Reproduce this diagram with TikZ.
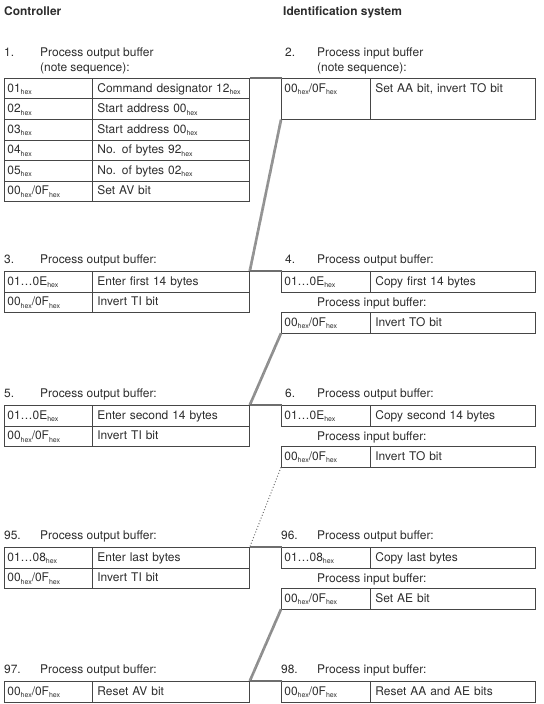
\documentclass[tikz,border=0pt]{standalone}
\usepackage{fontspec}
\setmainfont{TeX Gyre Heros}
\usepackage{xcolor}
\usepackage{tikz}
\usetikzlibrary{positioning}
\definecolor{ctText}{RGB}{ 45, 45, 45}
\definecolor{ctLine}{RGB}{ 70, 70, 70}
\definecolor{ctBand}{RGB}{200,200,200}
\definecolor{ctBandD}{RGB}{110,110,110}
\newcommand{\hexsub}{\raisebox{-2.6bp}{\fontsize{7}{8}\selectfont hex}}

\begin{document}
\begin{tikzpicture}[
  x=1bp, y=-1bp,
  every node/.style={font=\fontsize{12}{15}\selectfont, text=ctText},
  title/.style={anchor=base west, inner sep=0pt, font=\fontsize{12}{15}\selectfont\bfseries},
  hdr/.style={anchor=base west, inner sep=0pt},
  cell/.style={draw=ctLine, line width=0.8bp, anchor=north west, align=left,
               inner ysep=5.25bp, text height=8.5bp, text depth=1.5bp},
  lkey/.style={cell, inner xsep=3bp, text width=82bp},
  lval/.style={cell, inner xsep=5bp, text width=147bp},
  rkey/.style={cell, inner xsep=3bp, text width=83bp},
  rval/.style={cell, inner xsep=5bp, text width=155bp},
  hatch/.style={draw=ctBand, line width=2.6bp,
                postaction={draw=ctBandD, line width=2.6bp, dash pattern=on 0.4bp off 0.6bp}},
  dotline/.style={draw=black!55, line width=1bp, dash pattern=on 1bp off 2bp}
]
\useasboundingbox (0,0) rectangle (544,704);

\node[title] (ctl) at (4,16)   {Controller};
\node[title] (ids) at (283,16) {Identification system};

% step 1
\node[hdr] (n1)  at (4,57)  {1.};
\node[hdr] (h1)  at (40,57) {Process output buffer};
\node[hdr] (h1b) at (40,72) {(note sequence):};
\node[lkey] (s1r1k) at (4,78)     {01\hexsub};
\node[lval] (s1r1v) at (92,78)    {Command designator 12\hexsub};
\node[lkey] (s1r2k) at (4,98.5)   {02\hexsub};
\node[lval] (s1r2v) at (92,98.5)  {Start address 00\hexsub};
\node[lkey] (s1r3k) at (4,119)    {03\hexsub};
\node[lval] (s1r3v) at (92,119)   {Start address 00\hexsub};
\node[lkey] (s1r4k) at (4,139.5)  {04\hexsub};
\node[lval] (s1r4v) at (92,139.5) {No. of bytes 92\hexsub};
\node[lkey] (s1r5k) at (4,160)    {05\hexsub};
\node[lval] (s1r5v) at (92,160)   {No. of bytes 02\hexsub};
\node[lkey] (s1r6k) at (4,180.5)  {00\hexsub/0F\hexsub};
\node[lval] (s1r6v) at (92,180.5) {Set AV bit};

% step 2
\node[hdr] (n2)  at (285,57) {2.};
\node[hdr] (h2)  at (317,57) {Process input buffer};
\node[hdr] (h2b) at (317,72) {(note sequence):};
\node[rkey, text depth=22bp] (s2r1k) at (281,78) {00\hexsub/0F\hexsub};
\node[rval, text depth=22bp] (s2r1v) at (370,78) {Set AA bit, invert TO bit};

% step 3
\node[hdr] (n3) at (4,263)  {3.};
\node[hdr] (h3) at (40,263) {Process output buffer:};
\node[lkey] (s3r1k) at (4,271)      {01\ldots0E\hexsub};
\node[lval] (s3r1v) at (92,271)     {Enter first 14 bytes};
\node[lkey] (s3r2k) at (4,291.5)    {00\hexsub/0F\hexsub};
\node[lval] (s3r2v) at (92,291.5)   {Invert TI bit};

% step 4
\node[hdr] (n4)  at (285,263) {4.};
\node[hdr] (h4)  at (317,263) {Process output buffer:};
\node[rkey] (s4r1k) at (281,271)    {01\ldots0E\hexsub};
\node[rval] (s4r1v) at (370,271)    {Copy first 14 bytes};
\node[hdr] (h4b) at (317,306) {Process input buffer:};
\node[rkey] (s4r2k) at (281,312)    {00\hexsub/0F\hexsub};
\node[rval] (s4r2v) at (370,312)    {Invert TO bit};

% step 5
\node[hdr] (n5) at (4,397)  {5.};
\node[hdr] (h5) at (40,397) {Process output buffer:};
\node[lkey] (s5r1k) at (4,405)      {01\ldots0E\hexsub};
\node[lval] (s5r1v) at (92,405)     {Enter second 14 bytes};
\node[lkey] (s5r2k) at (4,425.5)    {00\hexsub/0F\hexsub};
\node[lval] (s5r2v) at (92,425.5)   {Invert TI bit};

% step 6
\node[hdr] (n6)  at (285,397) {6.};
\node[hdr] (h6)  at (317,397) {Process output buffer:};
\node[rkey] (s6r1k) at (281,405)    {01\ldots0E\hexsub};
\node[rval] (s6r1v) at (370,405)    {Copy second 14 bytes};
\node[hdr] (h6b) at (317,440) {Process input buffer:};
\node[rkey] (s6r2k) at (281,446)    {00\hexsub/0F\hexsub};
\node[rval] (s6r2v) at (370,446)    {Invert TO bit};

% step 95
\node[hdr] (n95) at (4,539)  {95.};
\node[hdr] (h95) at (40,539) {Process output buffer:};
\node[lkey] (s95r1k) at (4,547)     {01\ldots08\hexsub};
\node[lval] (s95r1v) at (92,547)    {Enter last bytes};
\node[lkey] (s95r2k) at (4,567.5)   {00\hexsub/0F\hexsub};
\node[lval] (s95r2v) at (92,567.5)  {Invert TI bit};

% step 96
\node[hdr] (n96)  at (281,539) {96.};
\node[hdr] (h96)  at (317,539) {Process output buffer:};
\node[rkey] (s96r1k) at (281,547)   {01\ldots08\hexsub};
\node[rval] (s96r1v) at (370,547)   {Copy last bytes};
\node[hdr] (h96b) at (317,582) {Process input buffer:};
\node[rkey] (s96r2k) at (281,588)   {00\hexsub/0F\hexsub};
\node[rval] (s96r2v) at (370,588)   {Set AE bit};

% step 97 / 98
\node[hdr] (n97) at (4,673)  {97.};
\node[hdr] (h97) at (40,673) {Process output buffer:};
\node[lkey] (s97r1k) at (4,681)     {00\hexsub/0F\hexsub};
\node[lval] (s97r1v) at (92,681)    {Reset AV bit};
\node[hdr] (n98) at (281,673) {98.};
\node[hdr] (h98) at (317,673) {Process input buffer:};
\node[rkey] (s98r1k) at (281,681)   {00\hexsub/0F\hexsub};
\node[rval] (s98r1v) at (370,681)   {Reset AA and AE bits};

% links
\draw[hatch]   (s1r1v.north east)  -- (s2r1k.north west);
\draw[hatch]   (s2r1k.south west)  -- (s3r1v.north east);
\draw[hatch]   (s3r1v.north east)  -- (s4r1k.north west);
\draw[hatch]   (s4r2k.south west)  -- (s5r1v.north east);
\draw[hatch]   (s5r1v.north east)  -- (s6r1k.north west);
\draw[dotline] (s6r2k.south west)  -- (s95r1v.north east);
\draw[hatch]   (s95r1v.north east) -- (s96r1k.north west);
\draw[hatch]   (s96r2k.south west) -- (s97r1v.north east);
\draw[hatch]   (s97r1v.north east) -- (s98r1k.north west);
\end{tikzpicture}
\end{document}
